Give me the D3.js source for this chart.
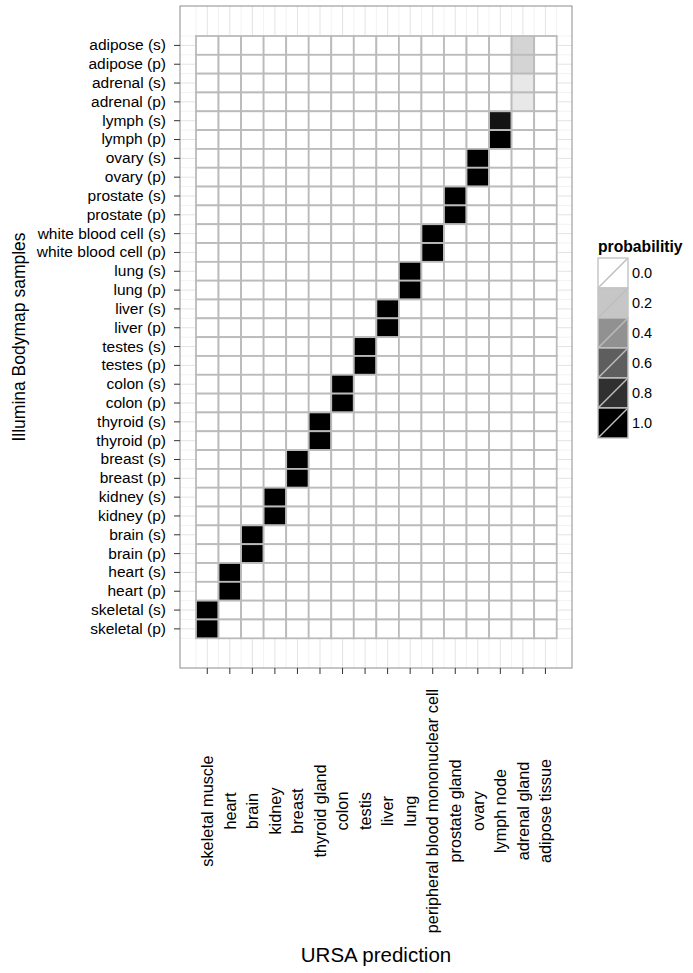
<!DOCTYPE html>
<html>
<head>
<meta charset="utf-8">
<script src="https://cdn.jsdelivr.net/npm/d3@7"></script>
<style>
  body { margin: 0; background: #fff; }
  text { font-family: "Liberation Sans", Arial, Helvetica, sans-serif; fill: #000; }
</style>
</head>
<body>
<div class="container"></div>
<script>
  // categories
  var predictions = ["skeletal muscle", "heart", "brain", "kidney", "breast", "thyroid gland", "colon",
    "testis", "liver", "lung", "peripheral blood mononuclear cell", "prostate gland", "ovary",
    "lymph node", "adrenal gland", "adipose tissue"];

  var samples = ["adipose (s)", "adipose (p)", "adrenal (s)", "adrenal (p)", "lymph (s)", "lymph (p)",
    "ovary (s)", "ovary (p)", "prostate (s)", "prostate (p)", "white blood cell (s)", "white blood cell (p)",
    "lung (s)", "lung (p)", "liver (s)", "liver (p)", "testes (s)", "testes (p)", "colon (s)", "colon (p)",
    "thyroid (s)", "thyroid (p)", "breast (s)", "breast (p)", "kidney (s)", "kidney (p)",
    "brain (s)", "brain (p)", "heart (s)", "heart (p)", "skeletal (s)", "skeletal (p)"];

  // predicted tissue for each sample and its probability (all other cells 0)
  var predicted = ["adrenal gland", "adrenal gland", "adrenal gland", "adrenal gland", "lymph node", "lymph node",
    "ovary", "ovary", "prostate gland", "prostate gland", "peripheral blood mononuclear cell", "peripheral blood mononuclear cell",
    "lung", "lung", "liver", "liver", "testis", "testis", "colon", "colon",
    "thyroid gland", "thyroid gland", "breast", "breast", "kidney", "kidney",
    "brain", "brain", "heart", "heart", "skeletal muscle", "skeletal muscle"];
  var probability = [0.15, 0.15, 0.08, 0.08, 0.94, 1.0,
    1.0, 1.0, 1.0, 1.0, 1.0, 1.0,
    1.0, 1.0, 1.0, 1.0, 1.0, 1.0, 1.0, 1.0,
    1.0, 1.0, 1.0, 1.0, 1.0, 1.0,
    1.0, 1.0, 1.0, 1.0, 1.0, 1.0];

  var legendBreaks = [0.0, 0.2, 0.4, 0.6, 0.8, 1.0];

  // frame
  var w = 693, h = 973;
  var svg = d3.select(".container").append("svg").attr("width", w).attr("height", h);

  var panel = {left: 180, right: 572, top: 6, bottom: 668};

  var x = d3.scaleBand().domain(predictions).range([196, 556.7]);
  var y = d3.scaleBand().domain(samples).range([36, 638.3]);
  var fill = d3.scaleLinear().domain([0, 1]).range(["white", "black"]).interpolate(d3.interpolateLab);

  // build cell table
  var cells = [];
  samples.forEach(function(s, i) {
    predictions.forEach(function(p) {
      cells.push({sample: s, pred: p, value: (predicted[i] == p) ? probability[i] : 0});
    });
  });

  // panel background + grid
  svg.append("rect").attr("x", panel.left).attr("y", panel.top)
    .attr("width", panel.right - panel.left).attr("height", panel.bottom - panel.top)
    .attr("fill", "#fff");

  var grid = svg.append("g");
  // minor grid at band edges
  var xEdges = predictions.map(function(p) { return x(p); }).concat([x.range()[1]]);
  var yEdges = samples.map(function(s) { return y(s); }).concat([y.range()[1]]);
  grid.selectAll(".vminor").data(xEdges).enter().append("line")
    .attr("x1", function(d) { return d; }).attr("x2", function(d) { return d; })
    .attr("y1", panel.top).attr("y2", panel.bottom)
    .attr("stroke", "#f2f2f2").attr("stroke-width", 1);
  grid.selectAll(".hminor").data(yEdges).enter().append("line")
    .attr("y1", function(d) { return d; }).attr("y2", function(d) { return d; })
    .attr("x1", panel.left).attr("x2", panel.right)
    .attr("stroke", "#f2f2f2").attr("stroke-width", 1);
  // major grid at band centres
  grid.selectAll(".vmajor").data(predictions).enter().append("line")
    .attr("x1", function(d) { return x(d) + x.bandwidth() / 2; })
    .attr("x2", function(d) { return x(d) + x.bandwidth() / 2; })
    .attr("y1", panel.top).attr("y2", panel.bottom)
    .attr("stroke", "#e3e3e3").attr("stroke-width", 1);
  grid.selectAll(".hmajor").data(samples).enter().append("line")
    .attr("y1", function(d) { return y(d) + y.bandwidth() / 2; })
    .attr("y2", function(d) { return y(d) + y.bandwidth() / 2; })
    .attr("x1", panel.left).attr("x2", panel.right)
    .attr("stroke", "#e3e3e3").attr("stroke-width", 1);

  // tiles
  svg.append("g").selectAll("rect").data(cells).enter().append("rect")
    .attr("x", function(d) { return x(d.pred); })
    .attr("y", function(d) { return y(d.sample); })
    .attr("width", x.bandwidth())
    .attr("height", y.bandwidth())
    .attr("fill", function(d) { return fill(d.value); })
    .attr("stroke", "#bbbbbb")
    .attr("stroke-width", 1.8);

  // panel border
  svg.append("rect").attr("x", panel.left).attr("y", panel.top)
    .attr("width", panel.right - panel.left).attr("height", panel.bottom - panel.top)
    .attr("fill", "none").attr("stroke", "#8c8c8c").attr("stroke-width", 1);

  // y axis
  var yAxis = d3.axisLeft(y).tickSize(6).tickPadding(8);
  var gy = svg.append("g").attr("transform", "translate(" + panel.left + ",0)").call(yAxis);
  gy.select(".domain").remove();
  gy.selectAll(".tick line").attr("stroke", "#333");
  gy.selectAll(".tick text").style("font-size", "15.5px").attr("fill", "#1a1a1a")
    .style("font-family", "'Liberation Sans', Arial, sans-serif");

  // x axis
  var xAxis = d3.axisBottom(x).tickSize(6).tickFormat("");
  var gx = svg.append("g").attr("transform", "translate(0," + panel.bottom + ")").call(xAxis);
  gx.select(".domain").remove();
  gx.selectAll(".tick line").attr("stroke", "#333");

  svg.append("g").selectAll("text").data(predictions).enter().append("text")
    .attr("transform", function(d) {
      return "translate(" + (x(d) + x.bandwidth() / 2) + ",811) rotate(-90)";
    })
    .attr("text-anchor", "middle")
    .attr("dy", "0.35em")
    .style("font-size", "16.3px")
    .attr("fill", "#1a1a1a")
    .text(function(d) { return d; });

  // axis titles
  svg.append("text")
    .attr("x", (panel.left + panel.right) / 2).attr("y", 962)
    .attr("text-anchor", "middle")
    .style("font-size", "20.5px")
    .attr("fill", "#1a1a1a")
    .text("URSA prediction");

  svg.append("text")
    .attr("transform", "translate(25," + ((panel.top + panel.bottom) / 2) + ") rotate(-90)")
    .attr("text-anchor", "middle")
    .style("font-size", "17.5px")
    .attr("fill", "#1a1a1a")
    .text("Illumina Bodymap samples");

  // legend
  var legend = svg.append("g").attr("transform", "translate(598,258)");
  legend.append("text").attr("x", 0).attr("y", -6)
    .style("font-size", "15.7px").style("font-weight", "bold")
    .text("probabilitiy");

  var keySize = 30;
  var keys = legend.selectAll(".key").data(legendBreaks).enter().append("g")
    .attr("transform", function(d, i) { return "translate(0," + (i * keySize) + ")"; });
  keys.append("rect")
    .attr("width", keySize).attr("height", keySize)
    .attr("fill", function(d) { return fill(d); })
    .attr("stroke", "#c4c4c4").attr("stroke-width", 1.4);
  keys.append("line")
    .attr("x1", 1).attr("y1", keySize - 1).attr("x2", keySize - 1).attr("y2", 1)
    .attr("stroke", "#bdbdbd").attr("stroke-width", 1.4);
  keys.append("text")
    .attr("x", keySize + 4).attr("y", keySize / 2).attr("dy", "0.35em")
    .style("font-size", "14.5px").attr("fill", "#1a1a1a")
    .text(function(d) { return d.toFixed(1); });
</script>
</body>
</html>
